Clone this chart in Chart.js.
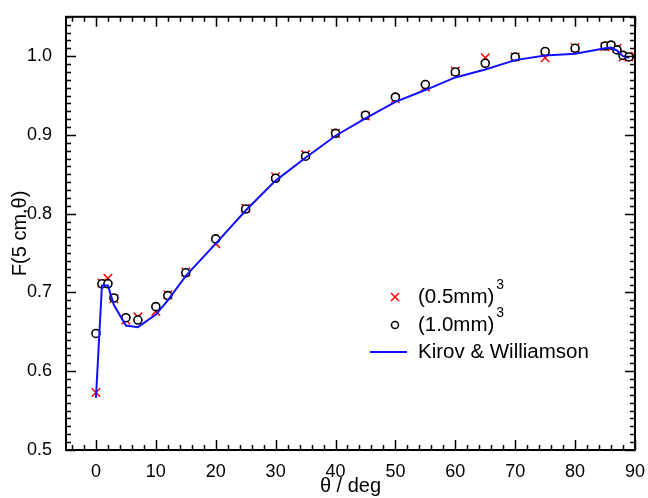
<!DOCTYPE html>
<html>
<head>
<meta charset="utf-8">
<script src="https://cdn.jsdelivr.net/npm/chart.js@4.4.1/dist/chart.umd.min.js"></script>
<style>
    html, body { margin: 0; padding: 0; background: #ffffff; }
    canvas { display: block; }
</style>
</head>
<body>
<canvas id="doseChart" width="648" height="498"></canvas>
<script>
// angles (deg) of the two voxel-size calculations
const thetaVoxel = [0, 1, 2, 3, 5, 7, 10, 12, 15, 20, 25, 30, 35, 40, 45, 50, 55, 60, 65, 70, 75, 80, 85, 86, 87, 88, 89, 90];
const voxel05 = [0.573, 0.712, 0.718, 0.692, 0.665, 0.669, 0.676, 0.697, 0.726, 0.762, 0.807, 0.847, 0.875, 0.902, 0.924, 0.946, 0.961, 0.981, 0.998, 0.999, 0.998, 1.011, 1.012, 1.013, 1.010, 0.999, 0.999, 1.000];
const voxel10 = [0.648, 0.711, 0.711, 0.693, 0.668, 0.665, 0.682, 0.696, 0.725, 0.768, 0.806, 0.845, 0.873, 0.902, 0.925, 0.948, 0.964, 0.980, 0.991, 0.999, 1.006, 1.010, 1.013, 1.014, 1.008, 1.001, 0.999];

// reference curve
const thetaKW = [0, 1, 2, 3, 5, 7, 10, 12, 15, 20, 25, 30, 35, 40, 45, 50, 55, 60, 65, 70, 75, 80, 85, 86, 87, 88, 89];
const kirovWilliamson = [0.566, 0.709, 0.709, 0.684, 0.658, 0.656, 0.672, 0.690, 0.721, 0.762, 0.804, 0.842, 0.871, 0.899, 0.921, 0.942, 0.957, 0.973, 0.983, 0.995, 1.001, 1.003, 1.010, 1.011, 1.007, 1.000, 0.998];

const xTicks = [0, 10, 20, 30, 40, 50, 60, 70, 80, 90];
const yTicks = [0.5, 0.6, 0.7, 0.8, 0.9, 1.0];

const labels = ["(0.5mm)", "(1.0mm)", "Kirov & Williamson"];

const FONT = "'Liberation Sans', Arial, Helvetica, sans-serif";

function toPoints(xs, ys) {
    return ys.map((y, i) => ({ x: xs[i], y: y }));
}

// inward ticks on all four sides + closed frame
const frameTicks = {
    id: "frameTicks",
    afterDraw(chart) {
        const ctx = chart.ctx;
        const a = chart.chartArea;
        const xs = chart.scales.x;
        const ys = chart.scales.y;
        ctx.save();
        ctx.strokeStyle = "#000000";
        ctx.lineWidth = 1.5;
        ctx.beginPath();
        for (let v = -4; v <= 90; v += 2) {
            const px = Math.round(xs.getPixelForValue(v)) + 0.5;
            const len = v % 10 === 0 ? 10 : 5;
            ctx.moveTo(px, a.bottom);
            ctx.lineTo(px, a.bottom - len);
            ctx.moveTo(px, a.top);
            ctx.lineTo(px, a.top + len);
        }
        for (let i = 50; i <= 105; i++) {
            const v = i / 100;
            const py = Math.round(ys.getPixelForValue(v)) + 0.5;
            const len = i % 10 === 0 ? 10 : 5;
            ctx.moveTo(a.left, py);
            ctx.lineTo(a.left + len, py);
            ctx.moveTo(a.right, py);
            ctx.lineTo(a.right - len, py);
        }
        ctx.stroke();
        ctx.lineWidth = 2;
        ctx.strokeRect(a.left, a.top, a.right - a.left, a.bottom - a.top);
        ctx.restore();
    },
};

// legend inside the plot, with superscripts
const insideLegend = {
    id: "insideLegend",
    afterDraw(chart) {
        const ctx = chart.ctx;
        const mx = 395;
        const tx = 418;
        const rows = [297, 325, 352];
        ctx.save();

        // cross
        ctx.strokeStyle = "#ff0000";
        ctx.lineWidth = 1.5;
        ctx.beginPath();
        ctx.moveTo(mx - 4, rows[0] - 4);
        ctx.lineTo(mx + 4, rows[0] + 4);
        ctx.moveTo(mx + 4, rows[0] - 4);
        ctx.lineTo(mx - 4, rows[0] + 4);
        ctx.stroke();

        // circle
        ctx.strokeStyle = "#000000";
        ctx.beginPath();
        ctx.arc(mx, rows[1], 3.5, 0, Math.PI * 2);
        ctx.stroke();

        // line
        ctx.strokeStyle = "#1010ff";
        ctx.lineWidth = 2;
        ctx.beginPath();
        ctx.moveTo(370, rows[2]);
        ctx.lineTo(407, rows[2]);
        ctx.stroke();

        ctx.fillStyle = "#000000";
        ctx.textBaseline = "middle";
        ctx.font = "20.5px " + FONT;
        for (let i = 0; i < labels.length; i++) {
            ctx.fillText(labels[i], tx, rows[i]);
            if (i < 2) {
                const w = ctx.measureText(labels[i]).width;
                ctx.font = "14px " + FONT;
                ctx.fillText("3", tx + w + 2, rows[i] - 12);
                ctx.font = "20.5px " + FONT;
            }
        }
        ctx.restore();
    },
};

const ctx = document.getElementById("doseChart").getContext("2d");

new Chart(ctx, {
    type: "scatter",
    data: {
        datasets: [
            {
                label: labels[2],
                data: toPoints(thetaKW, kirovWilliamson),
                showLine: true,
                borderColor: "#1010ff",
                borderWidth: 2,
                pointRadius: 0,
                fill: false,
                order: 0,
            },
            {
                label: labels[1],
                data: toPoints(thetaVoxel, voxel10),
                pointStyle: "circle",
                pointRadius: 4,
                borderColor: "#000000",
                backgroundColor: "#ffffff",
                borderWidth: 1.6,
                order: 1,
            },
            {
                label: labels[0],
                data: toPoints(thetaVoxel, voxel05),
                pointStyle: "crossRot",
                pointRadius: 6,
                borderColor: "#ff0000",
                borderWidth: 1.5,
                order: 2,
            },
        ],
    },
    options: {
        responsive: false,
        animation: false,
        layout: {
            padding: { top: 8, right: 9, left: 0, bottom: 0 },
        },
        plugins: {
            legend: { display: false },
            tooltip: { enabled: false },
        },
        scales: {
            x: {
                type: "linear",
                min: -5,
                max: 90,
                afterBuildTicks: (scale) => {
                    scale.ticks = xTicks.map((v) => ({ value: v }));
                },
                afterFit: (scale) => {
                    scale.height = 48;
                },
                grid: { display: false },
                border: { display: false },
                ticks: {
                    color: "#000000",
                    padding: 3,
                    maxRotation: 0,
                    font: { family: FONT, size: 18 },
                    callback: (v) => String(v),
                },
                title: {
                    display: true,
                    text: "θ / deg",
                    color: "#000000",
                    padding: { top: 0, bottom: 0 },
                    font: { family: FONT, size: 20 },
                },
            },
            y: {
                type: "linear",
                min: 0.5,
                max: 1.05,
                afterBuildTicks: (scale) => {
                    scale.ticks = yTicks.map((v) => ({ value: v }));
                },
                afterFit: (scale) => {
                    scale.width = 66;
                },
                grid: { display: false },
                border: { display: false },
                ticks: {
                    color: "#000000",
                    padding: 6,
                    font: { family: FONT, size: 18 },
                    callback: (v) => Number(v).toFixed(1),
                },
                title: {
                    display: true,
                    text: "F(5 cm,θ)",
                    color: "#000000",
                    padding: { top: 8, bottom: 0 },
                    font: { family: FONT, size: 20 },
                },
            },
        },
    },
    plugins: [frameTicks, insideLegend],
});
</script>
</body>
</html>
